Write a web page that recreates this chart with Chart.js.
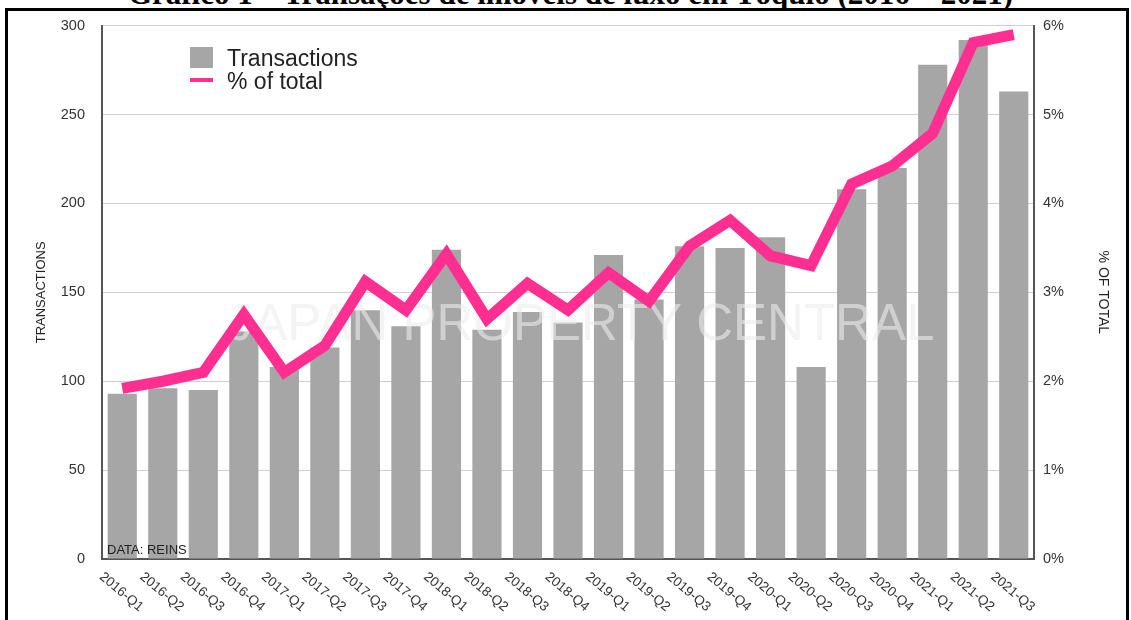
<!DOCTYPE html>
<html><head><meta charset="utf-8">
<script src="https://cdn.jsdelivr.net/npm/chart.js@4"></script>
<style>
html,body{margin:0;padding:0;background:#fff;width:1131px;height:620px;overflow:hidden}
body{position:relative}
#title{position:absolute;left:0;width:1131px;top:-22px;line-height:31px;text-align:center;font-weight:bold;font-size:31px;font-family:"Liberation Serif","DejaVu Serif",serif;white-space:nowrap;color:#000;padding-left:10px;box-sizing:border-box}
#frame{position:absolute;left:5px;top:8px;width:1118px;height:640px;border:3px solid #000;border-bottom:none;background:#fff}
#c{position:absolute;left:0;top:0}
</style>
</head><body>
<div id="title">Gráfico 1 – Transações de imóveis de luxo em Tóquio (2016 – 2021)</div>
<div id="frame"></div>
<canvas id="c" width="1131" height="620"></canvas>
<script>
const categories = ['2016-Q1','2016-Q2','2016-Q3','2016-Q4','2017-Q1','2017-Q2','2017-Q3','2017-Q4',
  '2018-Q1','2018-Q2','2018-Q3','2018-Q4','2019-Q1','2019-Q2','2019-Q3','2019-Q4',
  '2020-Q1','2020-Q2','2020-Q3','2020-Q4','2021-Q1','2021-Q2','2021-Q3'];
const transactions = [93, 96, 95, 128, 108, 119, 140, 131, 174, 129, 139, 133, 171, 146, 176, 175, 181, 108, 208, 220, 278, 292, 263];
const pctOfTotal = [1.92, 2.0, 2.1, 2.75, 2.1, 2.4, 3.12, 2.8, 3.43, 2.7, 3.1, 2.8, 3.22, 2.9, 3.52, 3.81, 3.41, 3.3, 4.22, 4.42, 4.79, 5.81, 5.9];
const leftTicks = [0, 50, 100, 150, 200, 250, 300];
const rightTicks = [0, 1, 2, 3, 4, 5, 6];

const FONT = '"Liberation Sans", Arial, Helvetica, sans-serif';
const BAR = '#a6a6a6';
const PINK = '#ff2f92';

const overlay = {
  id: 'overlay',
  afterDatasetDraw(chart, args) {
    if (args.index !== 0) return;
    const ctx = chart.ctx;
    ctx.save();
    ctx.font = '300 51px ' + FONT;
    ctx.fillStyle = 'rgba(236,236,236,0.6)';
    ctx.textAlign = 'center';
    ctx.textBaseline = 'middle';
    ctx.fillText('JAPAN PROPERTY CENTRAL', 581, 326);
    ctx.restore();
  },
  afterDraw(chart) {
    const ctx = chart.ctx, xs = chart.scales.x;
    ctx.save();
    ctx.font = '13.5px ' + FONT;
    ctx.fillStyle = '#333';
    ctx.textAlign = 'center';
    ctx.textBaseline = 'middle';
    categories.forEach((c, i) => {
      const x = xs.getPixelForTick(i);
      ctx.save();
      ctx.translate(x - 1, 592);
      ctx.rotate(40 * Math.PI / 180);
      ctx.fillText(c, 0, 0);
      ctx.restore();
    });
    ctx.font = '13px ' + FONT;
    ctx.fillStyle = '#222';
    ctx.textAlign = 'left';
    ctx.textBaseline = 'alphabetic';
    ctx.fillText('DATA: REINS', 107, 554);
    const ds = chart.data.datasets;
    ctx.fillStyle = BAR;
    ctx.fillRect(190, 47, 23, 21);
    ctx.strokeStyle = PINK;
    ctx.lineWidth = 4;
    ctx.beginPath(); ctx.moveTo(190, 80); ctx.lineTo(213, 80); ctx.stroke();
    ctx.font = '23px ' + FONT;
    ctx.fillStyle = '#222';
    ctx.fillText(ds[0].label, 227, 66);
    ctx.fillText(ds[1].label, 227, 89);
    ctx.restore();
  }
};

new Chart(document.getElementById('c'), {
  data: {
    labels: categories,
    datasets: [
      { type: 'bar', label: 'Transactions', data: transactions, backgroundColor: BAR, yAxisID: 'y', order: 2,
        categoryPercentage: 0.8, barPercentage: 0.9 },
      { type: 'line', label: '% of total', data: pctOfTotal, borderColor: PINK, borderWidth: 11, yAxisID: 'y1', order: 1,
        pointRadius: 0, tension: 0, borderJoinStyle: 'miter', borderCapStyle: 'butt', fill: false }
    ]
  },
  options: {
    responsive: false,
    devicePixelRatio: 1,
    animation: false,
    layout: { padding: { top: 24, left: 0, right: 0, bottom: 0 } },
    plugins: { legend: { display: false }, tooltip: { enabled: false } },
    scales: {
      x: {
        type: 'category',
        grid: { display: false, drawTicks: false },
        border: { display: true, color: '#555', width: 2 },
        ticks: { display: false },
        afterFit(s) { s.height = 61; }
      },
      y: {
        position: 'left', min: 0, max: 300,
        afterBuildTicks(s) { s.ticks = leftTicks.map(v => ({ value: v })); },
        ticks: { padding: 17, color: '#333', font: { size: 14.5, family: FONT } },
        grid: { color: '#cfcfcf', lineWidth: 1, drawTicks: false },
        border: { color: '#555', width: 2 },
        title: { display: true, text: 'TRANSACTIONS', color: '#222', font: { size: 13, family: FONT }, padding: { top: 34, bottom: 0 } },
        afterFit(s) { s.width = 102; }
      },
      y1: {
        position: 'right', min: 0, max: 6,
        afterBuildTicks(s) { s.ticks = rightTicks.map(v => ({ value: v })); },
        ticks: { padding: 9, color: '#333', font: { size: 14.5, family: FONT }, callback: v => v + '%' },
        grid: { drawOnChartArea: false, drawTicks: false },
        border: { color: '#555', width: 2 },
        title: { display: true, text: '% OF TOTAL', color: '#222', font: { size: 14, family: FONT }, padding: { top: 20, bottom: 0 } },
        afterFit(s) { s.width = 97; }
      }
    }
  },
  plugins: [overlay]
});
</script>
</body></html>
